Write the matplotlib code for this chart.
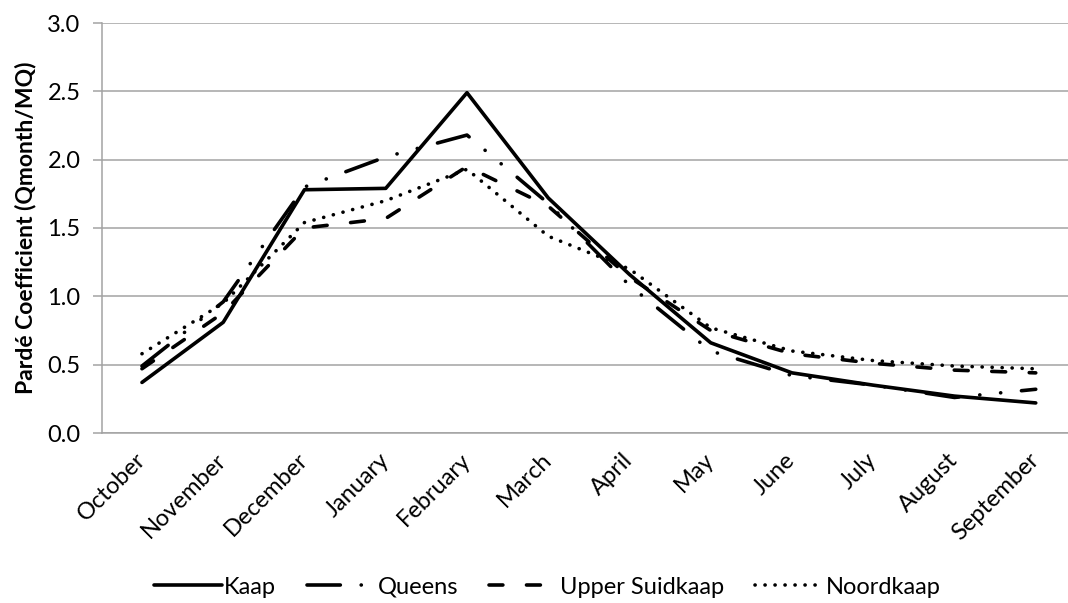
import matplotlib
matplotlib.use("Agg")
import matplotlib.pyplot as plt
import matplotlib.transforms as mtransforms
import numpy as np

plt.rcParams['font.family'] = ['Lato', 'DejaVu Sans']
plt.rcParams['lines.scale_dashes'] = False

months = ["October", "November", "December", "January", "February", "March",
          "April", "May", "June", "July", "August", "September"]

kaap = [0.37, 0.81, 1.78, 1.79, 2.49, 1.72, 1.16, 0.66, 0.44, 0.35, 0.27, 0.22]
queens = [0.49, 0.96, 1.80, 2.02, 2.18, 1.68, 1.08, 0.60, 0.42, 0.35, 0.26, 0.32]
upper_suidkaap = [0.47, 0.88, 1.50, 1.57, 1.95, 1.66, 1.14, 0.75, 0.58, 0.51, 0.46, 0.44]
noordkaap = [0.58, 0.95, 1.54, 1.70, 1.93, 1.44, 1.20, 0.77, 0.60, 0.53, 0.49, 0.47]

W, H = 1068, 603
fig = plt.figure(figsize=(W / 100, H / 100), dpi=100)
ax = fig.add_axes([102 / W, 1 - 433 / H, (W - 102) / W, (433 - 23) / H])

x = np.arange(len(months))
lw = 2.6

ax.plot(x, kaap, color='black', lw=lw, solid_capstyle='round',
        solid_joinstyle='round', label='Kaap')
ax.plot(x, queens, color='black', lw=lw, dash_capstyle='round',
        linestyle=(0, (24, 15, 0.1, 15, 0.1, 15)), label='Queens')
ax.plot(x, upper_suidkaap, color='black', lw=lw, dash_capstyle='round',
        linestyle=(0, (10, 17)), label='Upper Suidkaap')
ax.plot(x, noordkaap, color='black', lw=lw, dash_capstyle='round',
        linestyle=(0, (0.1, 7.1)), label='Noordkaap')

ax.set_xlim(-0.492, (W - 142) / 81.25)
ax.set_ylim(0, 3.0)
ax.set_yticks(np.arange(0, 3.01, 0.5))
ax.set_yticklabels([f"{v:.1f}" for v in np.arange(0, 3.01, 0.5)])
ax.set_xticks(x)
ax.set_xticklabels(months, rotation=45, ha='right', va='center',
                   rotation_mode='anchor')

# nudge the slanted month names a little right
shift = mtransforms.ScaledTranslation(5 / 100, 0, fig.dpi_scale_trans)
for lab in ax.get_xticklabels():
    lab.set_transform(lab.get_transform() + shift)

ax.grid(axis='y', color='#a3a3a3', lw=1.1)
ax.set_axisbelow(True)
for s in ['top', 'right']:
    ax.spines[s].set_visible(False)
for s in ['left', 'bottom']:
    ax.spines[s].set_color('#a3a3a3')
    ax.spines[s].set_linewidth(1.1)

ax.tick_params(axis='y', length=6.5, color='#a3a3a3', width=1.1, pad=9,
               labelsize=17, labelcolor='black')
ax.tick_params(axis='x', length=0, pad=17, labelsize=17, labelcolor='black')

ax.set_ylabel("Pardé Coefficient (Qmonth/MQ)", fontsize=16.5,
              fontweight='bold', labelpad=8)

fig.legend(loc='center', bbox_to_anchor=(547 / W, 1 - 587 / H), ncol=4,
           frameon=False, fontsize=17, handlelength=2.9, handletextpad=0.1,
           columnspacing=1.3)

fig.savefig("out.png", dpi=100)
